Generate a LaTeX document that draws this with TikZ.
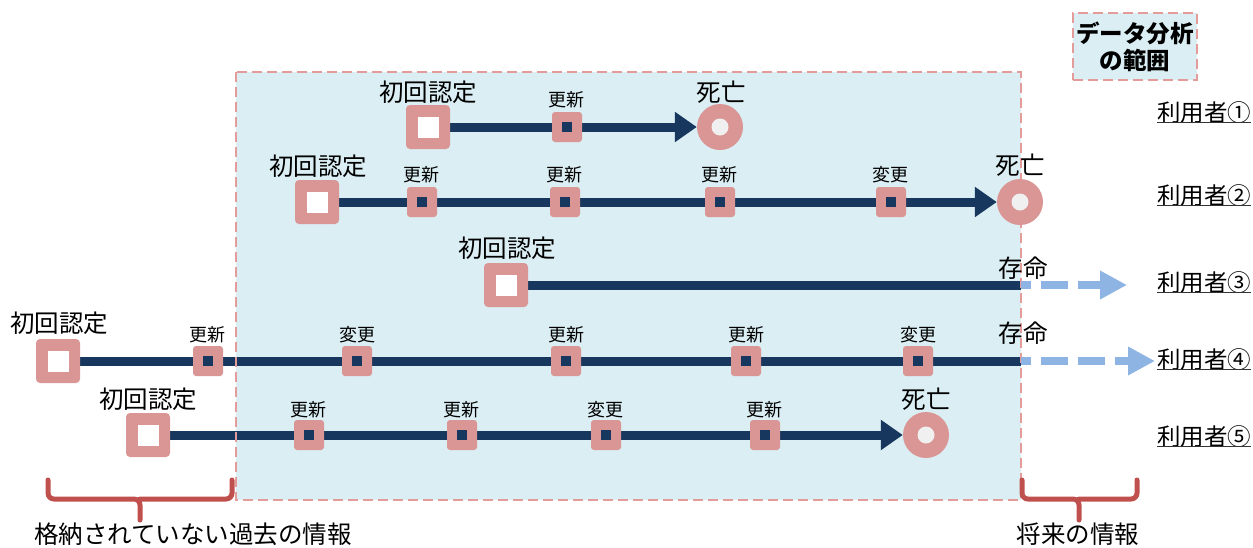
\documentclass[tikz,border=0pt]{standalone}
\usepackage{fontspec}
\setmainfont{Noto Sans CJK JP}
\usetikzlibrary{arrows.meta}
\definecolor{pk}{HTML}{DA9694}
\definecolor{navy}{HTML}{17375E}
\definecolor{boxfill}{HTML}{DAEEF3}
\definecolor{boxline}{HTML}{E39C9A}
\definecolor{lb}{HTML}{8DB4E2}
\definecolor{brk}{HTML}{C0504D}
\definecolor{cinner}{HTML}{F0F0F0}
\pgfdeclarelayer{back}
\pgfdeclarelayer{mid}
\pgfsetlayers{back,mid,main}
\begin{document}
\begin{tikzpicture}[x=1pt,y=-1pt,
  big/.style={fill=pk, rounded corners=4pt, minimum size=44pt, inner sep=0pt,
    path picture={\fill[white, sharp corners] ([xshift=-10.5pt,yshift=-10.5pt]path picture bounding box.center) rectangle ++(21pt,21pt);}},
  sm/.style={fill=pk, rounded corners=3pt, minimum size=30pt, inner sep=0pt,
    path picture={\fill[navy, sharp corners] ([xshift=-5pt,yshift=-5pt]path picture bounding box.center) rectangle ++(10pt,10pt);}},
  dead/.style={circle, fill=pk, minimum size=46pt, inner sep=0pt,
    path picture={\fill[cinner] (path picture bounding box.center) circle (8.5pt);}},
  lbl/.style={font=\fontsize{24.5}{28}\selectfont, inner sep=0pt},
  slbl/.style={font=\fontsize{18}{21}\selectfont, inner sep=0pt},
  tl/.style={draw=navy, line width=9pt},
  tla/.style={tl, -{Triangle[length=22pt,width=29pt]}},
  fut/.style={draw=lb, line width=8pt, dash pattern=on 27pt off 10pt, dash phase=17pt, -{Triangle[length=27pt,width=27pt]}},
  usr/.style={font=\fontsize{23.5}{27}\selectfont, inner sep=0pt},
  brack/.style={draw=brk, line width=5pt, rounded corners=6pt, line cap=round},
  areabox/.style={fill=boxfill, draw=boxline, line width=2.5pt, dash pattern=on 10pt off 5pt},
]
\useasboundingbox (0,0) rectangle (1253,547);

% analysis area
\begin{pgfonlayer}{back}
\fill[boxfill] (236,72) rectangle (1021,500);
\end{pgfonlayer}
\draw[boxline, line width=2.5pt, dash pattern=on 10pt off 5pt] (236,72) rectangle (1021,500);

% legend
\node[areabox, minimum width=124pt, minimum height=67pt, inner sep=0pt, align=center,
  font=\bfseries\fontsize{23.5}{27}\selectfont] (lg) at (1135,46.5) {データ分析\\の範囲};

% ---------- row 1 ----------
\node[big] (a1) at (428,127) {};
\node[sm] (a1u1) at (567,127) {};
\node[dead] (a1d) at (720,127) {};
\node[lbl] (a1l) at (428,92) {初回認定};
\node[slbl] (a1u1l) at (566,100) {更新};
\node[lbl] (a1dl) at (721,92) {死亡};
\begin{pgfonlayer}{mid}
\draw[tla] (a1.east) -- (a1d.west);
\end{pgfonlayer}

% ---------- row 2 ----------
\node[big] (a2) at (317,202) {};
\node[sm] (a2u1) at (422,202) {};
\node[sm] (a2u2) at (565,202) {};
\node[sm] (a2u3) at (720,202) {};
\node[sm] (a2u4) at (891,202) {};
\node[dead] (a2d) at (1020,202) {};
\node[lbl] (a2l) at (318,166) {初回認定};
\node[slbl] (a2u1l) at (421,175) {更新};
\node[slbl] (a2u2l) at (564,175) {更新};
\node[slbl] (a2u3l) at (719,175) {更新};
\node[slbl] (a2u4l) at (890,175) {変更};
\node[lbl] (a2dl) at (1020,165) {死亡};
\begin{pgfonlayer}{mid}
\draw[tla] (a2.east) -- (a2d.west);
\end{pgfonlayer}

% ---------- row 3 ----------
\node[big] (a3) at (506,285) {};
\node[lbl] (a3l) at (507,248) {初回認定};
\coordinate (e3) at (1021,285);
\coordinate (f3) at (1127,285);
\node[lbl] (a3s) at (1023,268) {存命};
\begin{pgfonlayer}{mid}
\draw[tl] (a3.east) -- (e3);
\end{pgfonlayer}
\draw[fut] (e3) -- (f3);

% ---------- row 4 ----------
\node[big] (a4) at (58,361) {};
\node[sm] (a4u1) at (208,361) {};
\node[sm] (a4u2) at (357,361) {};
\node[sm] (a4u3) at (566,361) {};
\node[sm] (a4u4) at (746,361) {};
\node[sm] (a4u5) at (918,361) {};
\node[lbl] (a4l) at (59,323) {初回認定};
\node[slbl] (a4u1l) at (207,335) {更新};
\node[slbl] (a4u2l) at (357,335) {変更};
\node[slbl] (a4u3l) at (566,335) {更新};
\node[slbl] (a4u4l) at (746,335) {更新};
\node[slbl] (a4u5l) at (918,335) {変更};
\coordinate (e4) at (1021,361);
\coordinate (f4) at (1155,361);
\node[lbl] (a4s) at (1023,333) {存命};
\begin{pgfonlayer}{mid}
\draw[tl] (a4.east) -- (e4);
\end{pgfonlayer}
\draw[fut] (e4) -- (f4);

% ---------- row 5 ----------
\node[big] (a5) at (148,435) {};
\node[sm] (a5u1) at (309,435) {};
\node[sm] (a5u2) at (462,435) {};
\node[sm] (a5u3) at (606,435) {};
\node[sm] (a5u4) at (765,435) {};
\node[dead] (a5d) at (926,435) {};
\node[lbl] (a5l) at (148,399) {初回認定};
\node[slbl] (a5u1l) at (308,410) {更新};
\node[slbl] (a5u2l) at (461,410) {更新};
\node[slbl] (a5u3l) at (605,410) {変更};
\node[slbl] (a5u4l) at (764,410) {更新};
\node[lbl] (a5dl) at (926,399) {死亡};
\begin{pgfonlayer}{mid}
\draw[tla] (a5.east) -- (a5d.west);
\end{pgfonlayer}

% ---------- users ----------
\foreach \i/\yy/\lab in {1/113/利用者①,2/196/利用者②,3/283/利用者③,4/360/利用者④,5/437/利用者⑤}{
  \node[usr] (u\i) at (1204,\yy) {\lab};
  \draw[line width=1.4pt, black!80] ([yshift=-0.5pt]u\i.base west) -- ([yshift=-0.5pt]u\i.base east);
}

% ---------- brackets ----------
\draw[brack] (48,480) |- (140,499) -- (140,520);
\draw[brack] (232,480) |- (140,499);
\draw[brack] (1022,480) |- (1079,499) -- (1079,520);
\draw[brack] (1137,480) |- (1079,499);
\node[lbl] (past) at (193,534) {格納されていない過去の情報};
\node[lbl] (fut) at (1078,534) {将来の情報};
\end{tikzpicture}
\end{document}
